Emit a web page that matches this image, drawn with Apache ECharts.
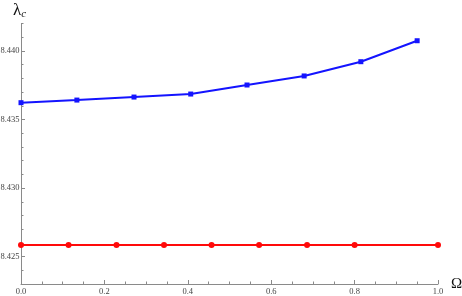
<!DOCTYPE html>
<html>
<head>
<meta charset="utf-8">
<script src="https://cdn.jsdelivr.net/npm/echarts@6/dist/echarts.min.js"></script>
<style>html,body{margin:0;padding:0;background:#fff;}#c{width:462px;height:296px;}</style>
</head>
<body>
<div id="c"></div>
<script>
var blueX = [0, 0.134, 0.271, 0.407, 0.542, 0.679, 0.815, 0.950];
var blueY = [8.43623, 8.43642, 8.43664, 8.43686, 8.43752, 8.43818, 8.43922, 8.44075];
var redX = [0, 0.114, 0.229, 0.343, 0.457, 0.571, 0.686, 0.800, 1.0];
var redY = [8.42585, 8.42585, 8.42585, 8.42585, 8.42585, 8.42585, 8.42585, 8.42585, 8.42585];
var yMajorTicks = [8.425, 8.430, 8.435, 8.440];
var yMinorTicks = [8.423, 8.424, 8.426, 8.427, 8.428, 8.429, 8.431, 8.432, 8.433, 8.434, 8.436, 8.437, 8.438, 8.439, 8.441, 8.442];
var xTicks = [0, 0.2, 0.4, 0.6, 0.8, 1.0];

function pairs(xs, ys) { return xs.map(function (x, i) { return [x, ys[i]]; }); }

var axisColor = '#8a8a8a';
var labelFont = { fontFamily: 'Liberation Serif', fontSize: 8.5, color: '#444' };

var chart = echarts.init(document.getElementById('c'), null, { renderer: 'canvas' });
chart.setOption({
  animation: false,
  grid: { left: 21, right: 24, top: 23.6, bottom: 12, containLabel: false, outerBoundsMode: 'none' },
  xAxis: {
    type: 'value', min: 0, max: 1, interval: 0.2,
    name: 'Ω', nameLocation: 'end', nameGap: 13,
    nameTextStyle: { fontFamily: 'Liberation Serif', fontSize: 15, color: '#111', verticalAlign: 'middle' },
    axisLine: { show: true, lineStyle: { color: axisColor, width: 1 } },
    axisTick: { show: true, inside: true, length: 4, lineStyle: { color: axisColor } },
    minorTick: { show: true, splitNumber: 4, length: 2.5, lineStyle: { color: axisColor } },
    axisLabel: Object.assign({ margin: 3, formatter: function (v) { return v.toFixed(1); } }, labelFont),
    splitLine: { show: false }
  },
  yAxis: [{
    type: 'value', min: 8.423, max: 8.442, position: 'left',
    axisLine: { show: true, onZero: false, lineStyle: { color: axisColor, width: 1 } },
    axisTick: { show: true, inside: true, length: 2.5, customValues: yMinorTicks, lineStyle: { color: axisColor } },
    axisLabel: Object.assign({ margin: 1.5, customValues: yMajorTicks, formatter: function (v) { return v.toFixed(3); } }, labelFont),
    splitLine: { show: false }
  }, {
    type: 'value', min: 8.423, max: 8.442, position: 'left', offset: 0,
    axisLine: { show: false },
    axisTick: { show: true, inside: true, length: 4, customValues: yMajorTicks, lineStyle: { color: axisColor } },
    axisLabel: { show: false },
    splitLine: { show: false }
  }],
  graphic: [{
    type: 'text', left: 13, top: 2,
    style: {
      text: '{l|λ}{s|c}',
      rich: {
        l: { fontFamily: 'Liberation Serif', fontSize: 17, fill: '#111' },
        s: { fontFamily: 'Liberation Serif', fontStyle: 'italic', fontSize: 11, fill: '#111', padding: [8, 0, 0, 0] }
      }
    }
  }],
  series: [{
    type: 'line', data: pairs(blueX, blueY), yAxisIndex: 0,
    symbol: 'rect', symbolSize: 5, showSymbol: true,
    lineStyle: { color: '#1414ff', width: 2 },
    itemStyle: { color: '#1414ff' }
  }, {
    type: 'line', data: pairs(redX, redY), yAxisIndex: 0,
    symbol: 'circle', symbolSize: 6, showSymbol: true,
    lineStyle: { color: '#ff0a0a', width: 2 },
    itemStyle: { color: '#ff0a0a' }
  }]
});
</script>
</body>
</html>
